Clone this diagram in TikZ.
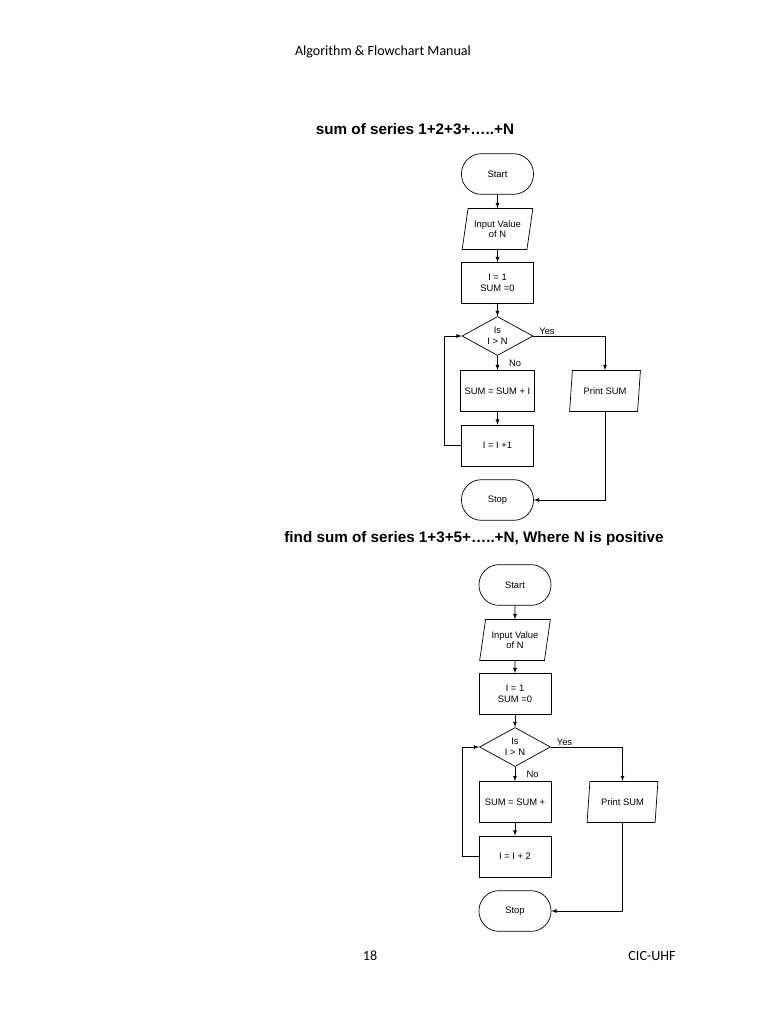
\documentclass[tikz,border=0pt]{standalone}
\usepackage{fontspec}
\setmainfont{Liberation Sans}
\newfontfamily\calibri{Carlito}
\usetikzlibrary{arrows,positioning,shapes.geometric}
\newcommand{\chartfont}{\fontsize{8}{9}\selectfont}
\tikzset{%
	startstop/.style = {draw, rectangle, rounded corners=0.6cm, minimum width=2.16cm, minimum height=1.22cm, text centered},
	inout/.style     = {draw, trapezium, trapezium left angle=75, trapezium right angle=105, trapezium stretches=true, minimum width=2.13cm, minimum height=1.23cm, inner sep=0pt, text centered},
	process/.style   = {draw, rectangle, minimum width=2.16cm, minimum height=1.23cm, text centered},
	decision/.style  = {draw, diamond, aspect=1.8, inner sep=0pt, minimum width=2.13cm, minimum height=1.17cm, text centered},
	arrow/.style     = {-latex},
}

\begin{document}
\begin{tikzpicture}[x=0.03cm, y=-0.03cm, line width=0.6pt, every node/.style={font=\chartfont, align=center}]
	\useasboundingbox (0,0) rectangle (768,1024);
	\node[font=\calibri\fontsize{12}{14}\selectfont] (header) at (383,52) {Algorithm \& Flowchart Manual};
	\node[font=\bfseries\fontsize{13}{15}\selectfont] (title1) at (415,129) {sum of series 1+2+3+…..+N};
	\node[font=\bfseries\fontsize{13}{15}\selectfont] (title2) at (474,539) {find sum of series 1+3+5+…..+N, Where N is positive};
	\node[font=\calibri\fontsize{12}{14}\selectfont] (pagenum) at (370,956) {18};
	\node[font=\calibri\fontsize{12}{14}\selectfont] (footer) at (652,956) {CIC-UHF};
	
	% first chart
	\node[startstop] (start1) at (497.5,174) {Start};
	\node[inout] (input1) at (497.5,229) {Input Value\\of N};
	\node[process] (init1) at (497.5,283) {I = 1\\SUM =0};
	\node[decision] (test1) at (497.5,336) {Is\\I > N};
	\node[process] (add1) at (497.5,391) {SUM = SUM + I};
	\node[process] (inc1) at (497.5,445.5) {I = I +1};
	\node[startstop] (stop1) at (497.5,500) {Stop};
	\node[inout] (print1) at (605,391) {Print SUM};
	\node (yes1) at (547,331) {Yes};
	\node (no1) at (515,363) {No};
	
	\draw[arrow] (start1) -- (input1);
	\draw[arrow] (input1) -- (init1);
	\draw[arrow] (init1) -- (test1);
	\draw[arrow] (test1) -- (add1);
	\draw[arrow] (add1) -- (inc1);
	\draw[arrow] (test1.east) -| (print1.north);
	\draw[arrow] (print1.south) |- (stop1.east);
	\draw[arrow] (inc1.west) -- ++(-16.7,0) |- (test1.west);
	
	% second chart
	\begin{scope}[shift={(17.5,411)}]
	\node[startstop] (start2) at (497.5,174) {Start};
	\node[inout] (input2) at (497.5,229) {Input Value\\of N};
	\node[process] (init2) at (497.5,283) {I = 1\\SUM =0};
	\node[decision] (test2) at (497.5,336) {Is\\I > N};
	\node[process] (add2) at (497.5,391) {SUM = SUM +};
	\node[process] (inc2) at (497.5,445.5) {I = I + 2};
	\node[startstop] (stop2) at (497.5,500) {Stop};
	\node[inout] (print2) at (605,391) {Print SUM};
	\node (yes2) at (547,331) {Yes};
	\node (no2) at (515,363) {No};
	
	\draw[arrow] (start2) -- (input2);
	\draw[arrow] (input2) -- (init2);
	\draw[arrow] (init2) -- (test2);
	\draw[arrow] (test2) -- (add2);
	\draw[arrow] (add2) -- (inc2);
	\draw[arrow] (test2.east) -| (print2.north);
	\draw[arrow] (print2.south) |- (stop2.east);
	\draw[arrow] (inc2.west) -- ++(-16.7,0) |- (test2.west);
	\end{scope}
	
\end{tikzpicture}
\end{document}
